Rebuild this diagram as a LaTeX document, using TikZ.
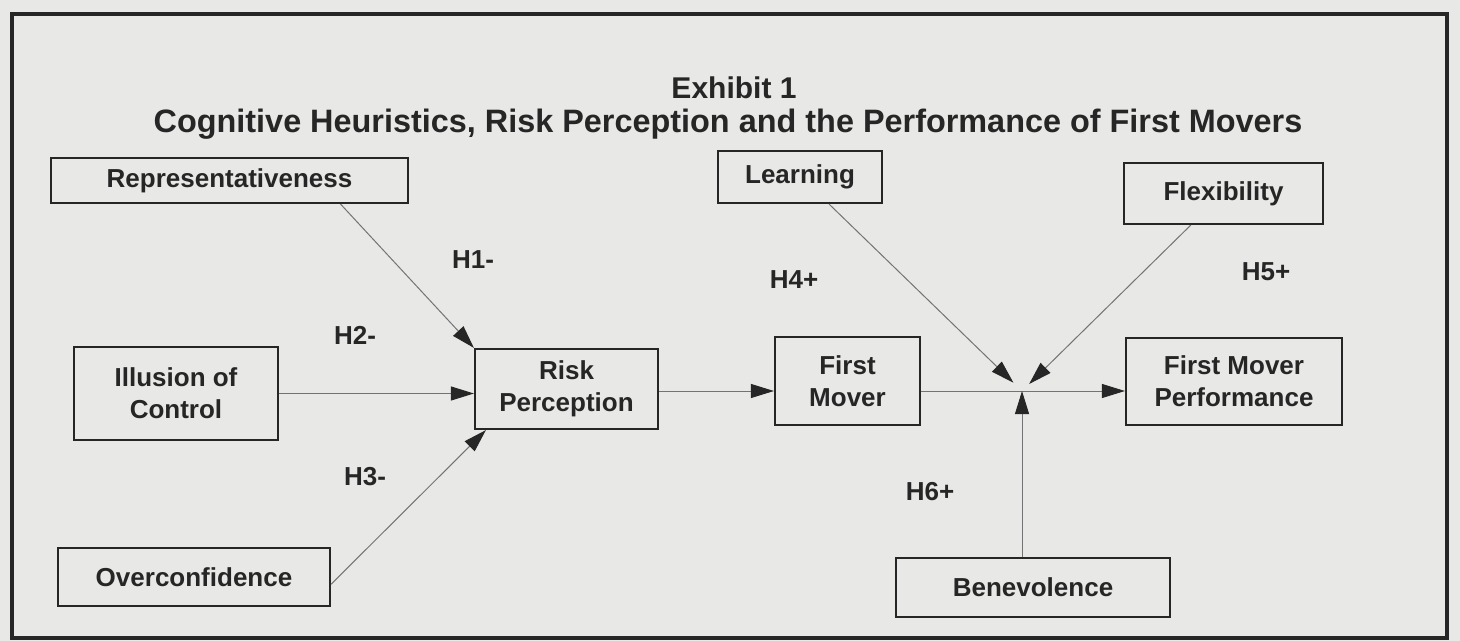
\documentclass[tikz,border=0pt]{standalone}
\usepackage{fontspec}
\setmainfont{Liberation Sans}
\usetikzlibrary{arrows.meta}
\definecolor{paper}{RGB}{232,232,230}
\definecolor{ink}{RGB}{38,38,38}

\begin{document}
\begin{tikzpicture}[x=.5pt,y=-.5pt,
  factor/.style={draw=ink,line width=1.1pt,align=center,inner sep=0pt,
    text=ink,font=\bfseries\fontsize{13}{16}\selectfont},
  hyp/.style={text=ink,font=\bfseries\fontsize{13}{16}\selectfont},
  heading/.style={text=ink,anchor=base,font=\bfseries\fontsize{15}{18}\selectfont},
  link/.style={draw=black!55,line width=.5pt,
    -{Triangle[length=11.5pt,width=7pt,color=ink]}}]
\fill [paper] (0,0) rectangle (1460,641);
\useasboundingbox (0,0) rectangle (1460,641);
\draw [ink,line width=2pt] (12,14) rectangle (1447,638);

\node [heading] (exhibit) at (734,99) {Exhibit 1};
\node [heading,font=\bfseries\fontsize{16.2}{19}\selectfont] (title) at (728,133) {Cognitive Heuristics, Risk Perception and the Performance of First Movers};

% heuristics
\node [factor,minimum width=178.5pt,minimum height=22.5pt] (rep) at (229.5,180.5) {Representativeness};
\node [factor,minimum width=102pt,minimum height=46.5pt] (ill) at (176,393.5) {Illusion of\\Control};
\node [factor,minimum width=136pt,minimum height=29pt] (over) at (194,577) {Overconfidence};

\node [factor,minimum width=91.5pt,minimum height=40pt] (risk) at (566.5,389) {Risk\\Perception};
\node [factor,minimum width=72.5pt,minimum height=44pt] (first) at (847.5,381) {First\\Mover};
\node [factor,minimum width=108pt,minimum height=43.5pt] (fmp) at (1234,381.5) {First Mover\\Performance};

% moderators
\node [factor,minimum width=82pt,minimum height=26pt] (learn) at (800,177) {Learning};
\node [factor,minimum width=99.5pt,minimum height=30.5pt] (flex) at (1223.5,193.5) {Flexibility};
\node [factor,minimum width=137pt,minimum height=29.5pt] (bene) at (1033,587.5) {Benevolence};

\coordinate (hub) at (1022,391);

\draw [link] (rep.-12.3) -- (risk.north west);
\draw [link] (ill.east) -- (ill.east -| risk.west);
\draw [link] (over.-3) -- ([xshift=6pt]risk.south west);
\draw [link] (risk.east |- hub) -- (first.west |- hub);
\draw [link] (first.east |- hub) -- (fmp.west |- hub);
\draw [link,shorten >=6pt] (learn.-43) -- (hub);
\draw [link,shorten >=5pt] (flex.-136) -- (hub);
\draw [link] (bene.north -| hub) -- (hub);

\node [hyp] (h1) at (473,260) {H1-};
\node [hyp] (h2) at (355,335) {H2-};
\node [hyp] (h3) at (365,477) {H3-};
\node [hyp] (h4) at (794,280) {H4+};
\node [hyp] (h5) at (1266,272) {H5+};
\node [hyp] (h6) at (930,492) {H6+};
\end{tikzpicture}
\end{document}
